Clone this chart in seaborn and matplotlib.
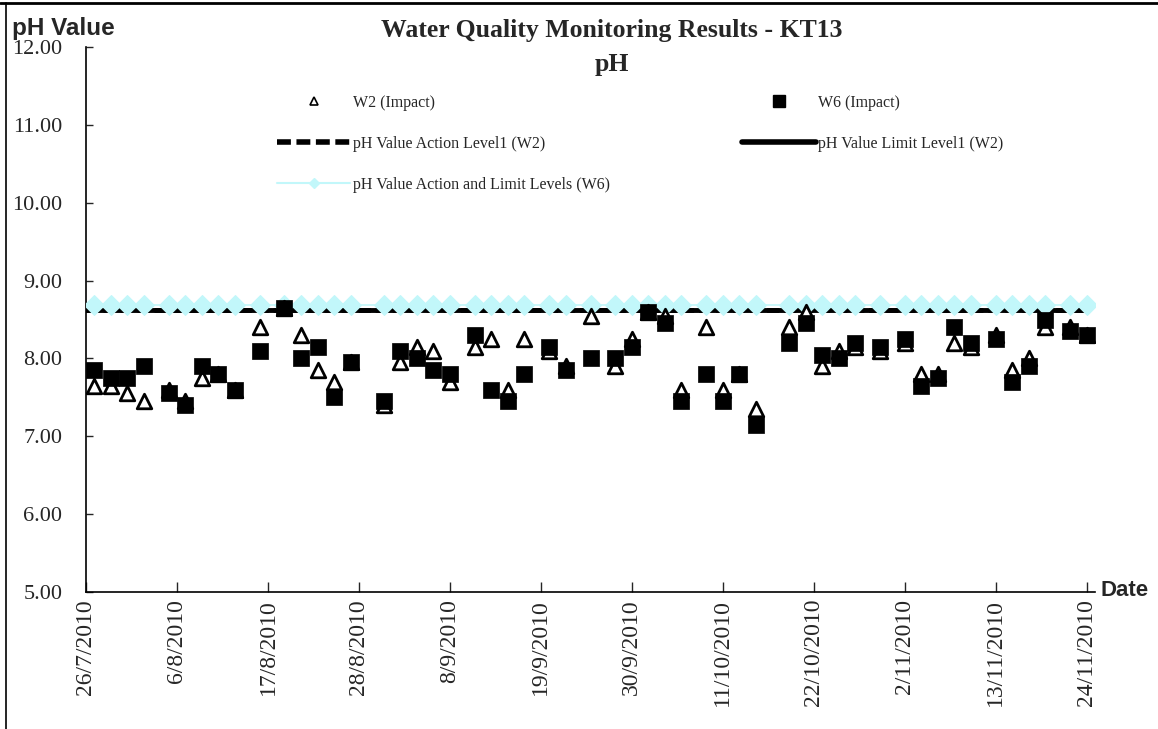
import pandas as pd
import numpy as np
import matplotlib.pyplot as plt
from matplotlib.lines import Line2D
import seaborn as sns

# sampling dates (d/m/2010) and pH readings
dates = ['27/7', '29/7', '31/7', '2/8', '5/8', '7/8', '9/8', '11/8', '13/8', '16/8',
         '19/8', '21/8', '23/8', '25/8', '27/8', '31/8', '2/9', '4/9', '6/9', '8/9',
         '11/9', '13/9', '15/9', '17/9', '20/9', '22/9', '25/9', '28/9', '30/9', '2/10',
         '4/10', '6/10', '9/10', '11/10', '13/10', '15/10', '19/10', '21/10', '23/10', '25/10',
         '27/10', '30/10', '2/11', '4/11', '6/11', '8/11', '10/11', '13/11', '15/11', '17/11',
         '19/11', '22/11', '24/11']
w2 = [7.65, 7.65, 7.55, 7.45, 7.60, 7.45, 7.75, 7.80, 7.60, 8.40,
      8.65, 8.30, 7.85, 7.70, 7.95, 7.40, 7.95, 8.15, 8.10, 7.70,
      8.15, 8.25, 7.60, 8.25, 8.10, 7.90, 8.55, 7.90, 8.25, 8.60,
      8.55, 7.60, 8.40, 7.60, 7.80, 7.35, 8.40, 8.60, 7.90, 8.10,
      8.15, 8.10, 8.20, 7.80, 7.80, 8.20, 8.15, 8.30, 7.85, 8.00,
      8.40, 8.40, 8.30]
w6 = [7.85, 7.75, 7.75, 7.90, 7.55, 7.40, 7.90, 7.80, 7.60, 8.10,
      8.65, 8.00, 8.15, 7.50, 7.95, 7.45, 8.10, 8.00, 7.85, 7.80,
      8.30, 7.60, 7.45, 7.80, 8.15, 7.85, 8.00, 8.00, 8.15, 8.60,
      8.45, 7.45, 7.80, 7.45, 7.80, 7.15, 8.20, 8.45, 8.05, 8.00,
      8.20, 8.15, 8.25, 7.65, 7.75, 8.40, 8.20, 8.25, 7.70, 7.90,
      8.50, 8.35, 8.30]

w2_level_dates = ['26/7', '24/11']
w2_action = 8.62
w2_limit = 8.62
w6_level = 8.68

tick_dates = ['26/7', '6/8', '17/8', '28/8', '8/9', '19/9', '30/9', '11/10',
              '22/10', '2/11', '13/11', '24/11']
y_ticks = [5, 6, 7, 8, 9, 10, 11, 12]


def to_dt(lst):
    return pd.to_datetime([d + '/2010' for d in lst], format='%d/%m/%Y')


df = pd.DataFrame({'date': to_dt(dates), 'W2': w2, 'W6': w6})
df['W6 level'] = w6_level
lv = pd.DataFrame({'date': to_dt(w2_level_dates)})
lv['action'] = w2_action
lv['limit'] = w2_limit

sns.set_style('white')
plt.rcParams['font.family'] = ['Liberation Serif', 'DejaVu Serif']

fig = plt.figure(figsize=(11.58, 7.29), dpi=100)
ax = fig.add_axes([86 / 1158, 1 - 592 / 729, (1095 - 86) / 1158, (592 - 47) / 729])

cyan = '#c2f7fa'
sns.lineplot(data=lv, x='date', y='limit', ax=ax, color='black', lw=3.5, zorder=2)
sns.lineplot(data=lv, x='date', y='action', ax=ax, color='black', lw=3.5,
             linestyle=(0, (2.5, 1)), zorder=2)
sns.lineplot(data=df, x='date', y='W6 level', ax=ax, color=cyan, lw=1.2,
             marker='D', markersize=10, markeredgecolor=cyan, zorder=3)
sns.scatterplot(data=df, x='date', y='W2', ax=ax, marker='^', s=110,
                facecolor='white', edgecolor='black', linewidth=2, zorder=4)
sns.scatterplot(data=df, x='date', y='W6', ax=ax, marker='s', s=140,
                color='black', edgecolor='black', linewidth=0.5, zorder=5)

ax.set_xlim(pd.Timestamp('2010-07-26'), pd.Timestamp('2010-11-25'))
ax.set_ylim(5, 12)
ax.set_yticks(y_ticks)
ax.set_yticklabels([f'{v:.2f}' for v in y_ticks], fontsize=16)
tk = to_dt(tick_dates)
ax.set_xticks(tk)
ax.set_xticklabels([f'{d.day}/{d.month}/{d.year}' for d in tk], rotation=90, fontsize=17)
ax.tick_params(axis='y', direction='in', length=5, width=1, pad=17, left=True)
ax.tick_params(axis='x', direction='in', length=7, width=1, pad=5, bottom=True)
ax.set_xlabel('')
ax.set_ylabel('')
for s in ['top', 'right']:
    ax.spines[s].set_visible(False)
for s in ['left', 'bottom']:
    ax.spines[s].set_color('black')
    ax.spines[s].set_linewidth(1.2)

sans = ['Liberation Sans Narrow', 'Liberation Sans', 'DejaVu Sans']
fig.text(12 / 1158, 1 - 29 / 729, 'pH Value', family=sans, fontsize=17.5,
         fontweight='bold', fontstretch='condensed', va='center')
fig.text(1101 / 1158, 1 - 590 / 729, 'Date', family=sans, fontsize=16,
         fontweight='bold', fontstretch='condensed', va='center')
fig.text(612 / 1158, 1 - 31 / 729, 'Water Quality Monitoring Results - KT13',
         fontsize=18.5, fontweight='bold', ha='center', va='center')
fig.text(612 / 1158, 1 - 64 / 729, 'pH', fontsize=18.5, fontweight='bold',
         ha='center', va='center')

handles = [
    Line2D([], [], ls='none', marker='^', ms=6, mfc='white', mec='black', mew=1.2),
    Line2D([], [], color='black', lw=4, ls=(0, (2.5, 1))),
    Line2D([], [], color=cyan, lw=1.5, marker='D', ms=5, mec=cyan),
    Line2D([], [], ls='none', marker='s', ms=8, color='black'),
    Line2D([], [], color='black', lw=4),
]
labels = ['W2 (Impact)', 'pH Value Action Level1 (W2)',
          'pH Value Action and Limit Levels (W6)', 'W6 (Impact)',
          'pH Value Limit Level1 (W2)']
fig.legend(handles, labels, loc='upper left', bbox_to_anchor=(277 / 1158, 1 - 95 / 729),
           ncol=2, frameon=False, fontsize=11.5, handlelength=4.6, handletextpad=0.15,
           labelspacing=1.55, columnspacing=8.3, borderpad=0, borderaxespad=0)

# outer border (top and left only)
fig.add_artist(Line2D([0, 1], [1 - 3 / 729, 1 - 3 / 729], color='black', lw=2,
                      transform=fig.transFigure))
fig.add_artist(Line2D([6 / 1158, 6 / 1158], [0, 1 - 3 / 729], color='black', lw=1.2,
                      transform=fig.transFigure))

fig.savefig('out.png', dpi=100)
